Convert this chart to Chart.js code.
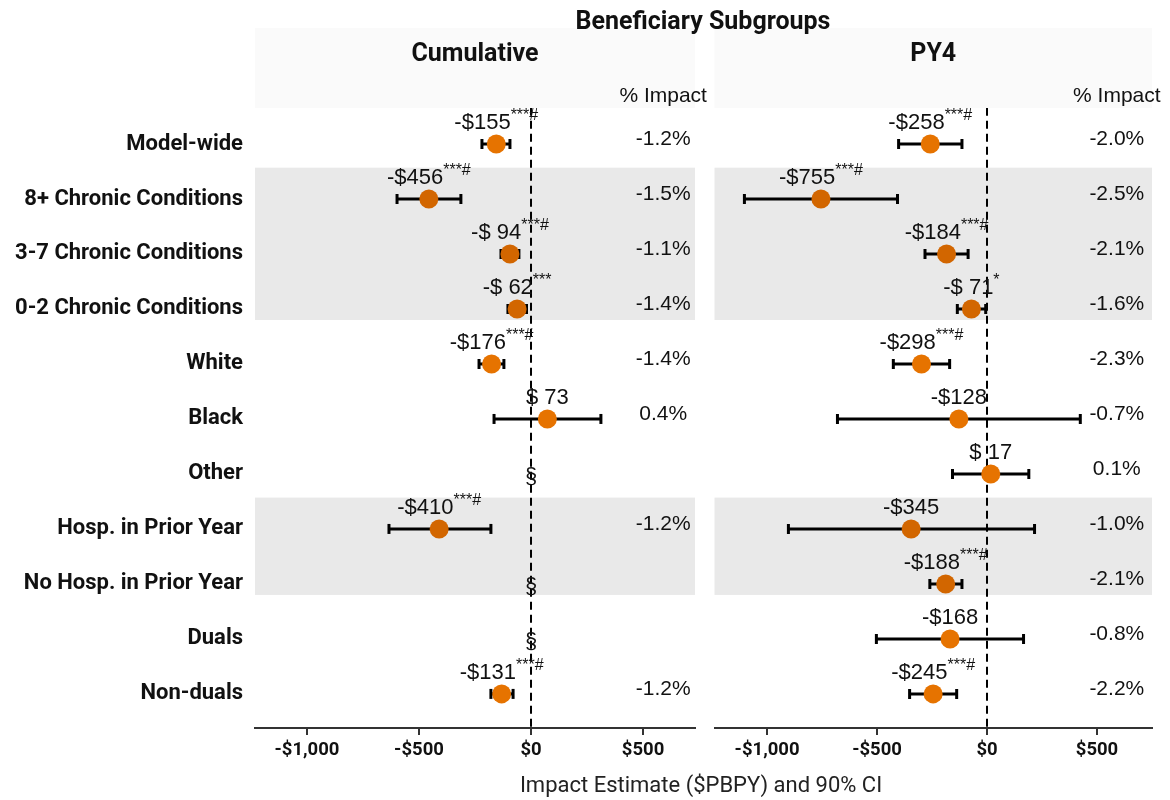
<!DOCTYPE html>
<html>
<head>
<meta charset="utf-8">
<script src="https://cdn.jsdelivr.net/npm/chart.js@4.4.1/dist/chart.umd.min.js"></script>
<style>
  body { margin: 0; background: #fff; }
  #wrap { position: relative; width: 1170px; height: 800px; }
  #left { position: absolute; left: 0; top: 0; }
  #right { position: absolute; left: 705px; top: 0; }
  #title { position: absolute; left: 0; width: 1406px; top: 6px; text-align: center;
           font: bold 25px Roboto, sans-serif; color: #111; }
  #xtitle { position: absolute; left: 0; width: 1402px; top: 772px; text-align: center;
            font: 22px Roboto, sans-serif; color: #222; }
</style>
</head>
<body>
<div id="wrap">
  <canvas id="right" width="465" height="800"></canvas>
  <canvas id="left" width="722" height="800"></canvas>
  <div id="title">Beneficiary Subgroups</div>
  <div id="xtitle">Impact Estimate ($PBPY) and 90% CI</div>
</div>
<script>
// Kategorien (Zeilen)
const categories = ['Model-wide', '8+ Chronic Conditions', '3-7 Chronic Conditions', '0-2 Chronic Conditions',
  'White', 'Black', 'Other', 'Hosp. in Prior Year', 'No Hosp. in Prior Year', 'Duals', 'Non-duals'];

// Cumulative
const cumEst = [-155, -456, -94, -62, -176, 73, null, -410, null, null, -131];
const cumLo  = [-219, -598, -134, -103, -232, -165, null, -634, null, null, -179];
const cumHi  = [-94, -313, -54, -20, -121, 312, null, -179, null, null, -80];
const cumLabel = ['-$155', '-$456', '-$ 94', '-$ 62', '-$176', '$ 73', '§', '-$410', '§', '§', '-$131'];
const cumSig = ['***#', '***#', '***#', '***', '***#', '', '', '***#', '', '', '***#'];
const cumPct = ['-1.2%', '-1.5%', '-1.1%', '-1.4%', '-1.4%', '0.4%', '', '-1.2%', '', '', '-1.2%'];

// PY4
const py4Est = [-258, -755, -184, -71, -298, -128, 17, -345, -188, -168, -245];
const py4Lo  = [-402, -1103, -282, -135, -426, -680, -157, -903, -260, -503, -352];
const py4Hi  = [-114, -407, -86, -6, -170, 424, 190, 216, -114, 166, -138];
const py4Label = ['-$258', '-$755', '-$184', '-$ 71', '-$298', '-$128', '$ 17', '-$345', '-$188', '-$168', '-$245'];
const py4Sig = ['***#', '***#', '***#', '*', '***#', '', '', '', '***#', '', '***#'];
const py4Pct = ['-2.0%', '-2.5%', '-2.1%', '-1.6%', '-2.3%', '-0.7%', '0.1%', '-1.0%', '-2.1%', '-0.8%', '-2.2%'];

// Achsen
const xTicks = [-1000, -500, 0, 500];
const bandRows = [[1, 3], [7, 8]]; // grau hinterlegte Zeilengruppen
const pctX = 590;                   // x-Position der %-Spalte (Datenwert)

const ORANGE = '#E67300';
const ORANGE_DARK = '#D26600';
const TXT = '"Liberation Sans", Arial, sans-serif';

function money(v) {
  return (v < 0 ? '-$' : '$') + Math.abs(v).toLocaleString('en-US');
}

function inBand(i) {
  return bandRows.some(b => i >= b[0] && i <= b[1]);
}

function makePanel(id, title, est, lo, hi, labels, sig, pct, opt) {
  const ciSets = est.map((e, i) => e === null ? null : {
    type: 'line',
    data: [{ x: lo[i], y: i }, { x: hi[i], y: i }],
    borderColor: '#000',
    borderWidth: 3,
    pointStyle: 'line',
    rotation: 90,
    pointRadius: 5,
    pointBorderWidth: 3,
    pointBorderColor: '#000',
    order: 1
  }).filter(d => d);

  const points = [];
  const colors = [];
  est.forEach((e, i) => {
    if (e !== null) { points.push({ x: e, y: i }); colors.push(inBand(i) ? ORANGE_DARK : ORANGE); }
  });

  const panelPlugin = {
    id: 'panel_' + id,
    beforeDatasetsDraw(chart) {
      const { ctx, chartArea: a, scales: { y } } = chart;
      ctx.save();
      // Kopfbereich
      ctx.fillStyle = '#FAFAFA';
      ctx.fillRect(a.left, 28, a.right - a.left, a.top - 28);
      // graue Bänder
      ctx.fillStyle = '#E9E9E9';
      bandRows.forEach(b => {
        const top = y.getPixelForValue(b[0] - 0.57);
        const bot = y.getPixelForValue(b[1] + 0.2);
        ctx.fillRect(a.left, top, a.right - a.left, bot - top);
      });
      ctx.restore();
    },
    afterDatasetsDraw(chart) {
      const { ctx, chartArea: a, scales: { x, y } } = chart;
      ctx.save();
      ctx.fillStyle = '#111';
      ctx.textBaseline = 'middle';
      // Paneltitel
      ctx.font = 'bold 25px Roboto, sans-serif';
      ctx.textAlign = 'center';
      ctx.fillText(title, (a.left + a.right) / 2, 55);
      // % Impact Kopf
      ctx.font = '21px ' + TXT;
      ctx.fillText('% Impact', x.getPixelForValue(pctX), 96);
      est.forEach((e, i) => {
        const py = y.getPixelForValue(i);
        if (e === null) {
          ctx.font = '22px ' + TXT;
          ctx.textAlign = 'center';
          ctx.fillText(labels[i], x.getPixelForValue(0), py + 3);
        } else {
          const px = x.getPixelForValue(e);
          ctx.font = '22px ' + TXT;
          const w1 = ctx.measureText(labels[i]).width;
          ctx.font = '16px ' + TXT;
          const w2 = ctx.measureText(sig[i]).width;
          const start = px - (w1 + w2) / 2;
          ctx.textAlign = 'left';
          ctx.font = '22px ' + TXT;
          ctx.fillText(labels[i], start, py - 21);
          if (sig[i]) {
            ctx.font = '16px ' + TXT;
            ctx.fillText(sig[i], start + w1, py - 28);
          }
        }
        if (pct[i]) {
          ctx.font = '21px ' + TXT;
          ctx.textAlign = 'center';
          ctx.fillText(pct[i], x.getPixelForValue(pctX), py - 5);
        }
      });
      ctx.restore();
    }
  };

  return new Chart(document.getElementById(id), {
    type: 'scatter',
    data: {
      datasets: [
        {
          type: 'scatter',
          data: points,
          pointRadius: 9.5,
          pointHoverRadius: 9.5,
          pointBackgroundColor: colors,
          pointBorderWidth: 0,
          order: 0
        },
        ...ciSets,
        {
          type: 'line',
          data: [{ x: 0, y: -0.66 }, { x: 0, y: 10.62 }],
          borderColor: '#000',
          borderWidth: 2,
          borderDash: [8, 5],
          pointRadius: 0,
          order: 2
        }
      ]
    },
    options: {
      responsive: false,
      animation: false,
      layout: { padding: opt.padding },
      plugins: { legend: { display: false }, tooltip: { enabled: false } },
      scales: {
        x: {
          type: 'linear',
          min: opt.xmin,
          max: opt.xmax,
          afterBuildTicks: s => { s.ticks = xTicks.map(v => ({ value: v })); },
          afterFit: s => { s.height = 72; },
          grid: { display: true, drawOnChartArea: false, drawTicks: true, tickLength: 7, color: '#333', lineWidth: 2 },
          border: { display: true, color: '#333', width: 2 },
          ticks: {
            padding: 4,
            maxRotation: 0,
            color: '#111',
            font: { family: 'Roboto', weight: 'bold', size: 18.5 },
            callback: v => money(v)
          }
        },
        y: {
          type: 'linear',
          reverse: true,
          min: -0.655,
          max: 10.62,
          display: opt.showY,
          afterBuildTicks: s => { s.ticks = categories.map((c, i) => ({ value: i })); },
          afterFit: s => { s.width = opt.showY ? 255 : 0; },
          grid: { display: false },
          border: { display: false },
          ticks: {
            padding: 4,
            color: '#111',
            font: { family: 'Roboto', weight: 'bold', size: 22 },
            callback: v => categories[v]
          }
        }
      }
    },
    plugins: [panelPlugin]
  });
}

makePanel('left', 'Cumulative', cumEst, cumLo, cumHi, cumLabel, cumSig, cumPct,
  { xmin: -1232, xmax: 732, showY: true, padding: { top: 108, right: 27, left: 0, bottom: 0 } });
makePanel('right', 'PY4', py4Est, py4Lo, py4Hi, py4Label, py4Sig, py4Pct,
  { xmin: -1239, xmax: 750, showY: false, padding: { top: 108, right: 18, left: 4, bottom: 0 } });
</script>
</body>
</html>
